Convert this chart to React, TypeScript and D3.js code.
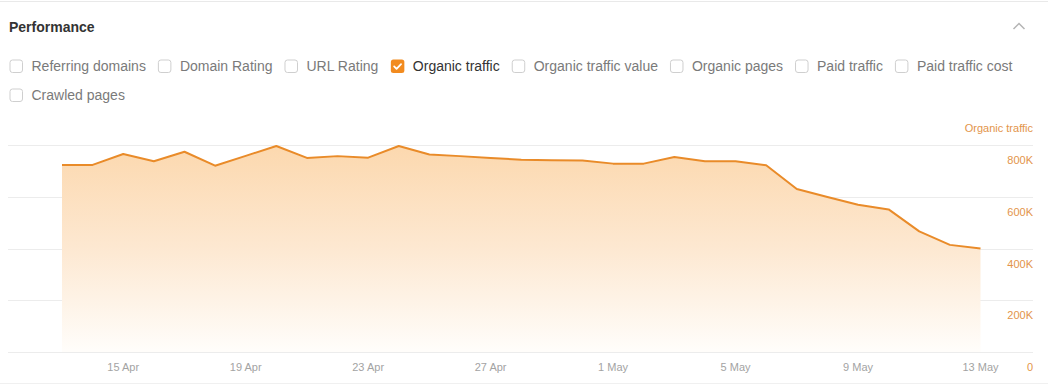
import React from "react";
import * as d3 from "d3";

const dates: string[] = [
  "2024-04-13", "2024-04-14", "2024-04-15", "2024-04-16", "2024-04-17", "2024-04-18",
  "2024-04-19", "2024-04-20", "2024-04-21", "2024-04-22", "2024-04-23", "2024-04-24",
  "2024-04-25", "2024-04-26", "2024-04-27", "2024-04-28", "2024-04-29", "2024-04-30",
  "2024-05-01", "2024-05-02", "2024-05-03", "2024-05-04", "2024-05-05", "2024-05-06",
  "2024-05-07", "2024-05-08", "2024-05-09", "2024-05-10", "2024-05-11", "2024-05-12",
  "2024-05-13",
];

const organicTraffic: number[] = [
  723000, 723000, 765000, 737000, 774000, 720000, 758000, 796000, 750000, 757000,
  751000, 796000, 763000, 757000, 750000, 743000, 741000, 740000, 728000, 728000,
  754000, 737000, 737000, 722000, 630000, 599000, 569000, 551000, 466000, 414000,
  400000,
];

const xTickDates: string[] = [
  "2024-04-15", "2024-04-19", "2024-04-23", "2024-04-27",
  "2024-05-01", "2024-05-05", "2024-05-09", "2024-05-13",
];

const yTickValues: number[] = [0, 200000, 400000, 600000, 800000];

const metricOptions: string[] = [
  "Referring domains", "Domain Rating", "URL Rating", "Organic traffic",
  "Organic traffic value", "Organic pages", "Paid traffic", "Paid traffic cost",
  "Crawled pages",
];
const checkedMetric = "Organic traffic";
const seriesTitle = "Organic traffic";

const W = 1048;
const H = 385;
const FONT = '"Liberation Sans", Arial, sans-serif';
const ORANGE_LINE = "#e98b29";
const ORANGE_TEXT = "#e3944a";

function measure(text: string, font: string): number {
  if (typeof document === "undefined") return text.length * 7;
  const c = document.createElement("canvas").getContext("2d");
  if (!c) return text.length * 7;
  c.font = font;
  return c.measureText(text).width;
}

export default function App() {
  const parse = d3.utcParse("%Y-%m-%d");
  const data = dates.map((d, i) => ({ date: parse(d) as Date, value: organicTraffic[i] }));

  const x = d3
    .scaleUtc()
    .domain([parse(dates[0]) as Date, parse(dates[dates.length - 1]) as Date])
    .range([62, 980.5]);
  const y = d3.scaleLinear().domain([0, 800000]).range([352, 145]);

  const gridLeft = 8;
  const gridRight = 1033;

  const line = d3
    .line<{ date: Date; value: number }>()
    .x((d) => x(d.date))
    .y((d) => y(d.value));
  const area = d3
    .area<{ date: Date; value: number }>()
    .x((d) => x(d.date))
    .y0(y(0))
    .y1((d) => y(d.value));

  const fmtTick = d3.utcFormat("%-d %b");
  const fmtY = (v: number) => (v === 0 ? "0" : `${v / 1000}K`);

  // checkbox layout (flow)
  const labelFont = `14px ${FONT}`;
  const box = 13.5;
  const innerGap = 8.5;
  const itemGap = 12;
  const rowStartX = 9.5;
  const rowMaxX = 1030;
  const rowYs = [59.5, 88.5];
  const items: { label: string; x: number; row: number }[] = [];
  let cx = rowStartX;
  let row = 0;
  metricOptions.forEach((m) => {
    const w = box + innerGap + measure(m, labelFont);
    if (cx + w > rowMaxX) {
      row += 1;
      cx = rowStartX;
    }
    items.push({ label: m, x: cx, row });
    cx += w + itemGap;
  });

  return (
    <div style={{ width: W, height: H }}>
      <style>{`body{margin:0;background:#fff}`}</style>
      <svg width={W} height={H} style={{ display: "block", fontFamily: FONT }}>
        <defs>
          <linearGradient id="areaGrad" gradientUnits="userSpaceOnUse" x1="0" y1="145" x2="0" y2="350">
            <stop offset="0" stopColor="#fcd8ae" />
            <stop offset="0.5" stopColor="#fde8d1" />
            <stop offset="1" stopColor="#fffdfa" />
          </linearGradient>
        </defs>
        <rect x={0} y={0} width={W} height={H} fill="#fff" />
        <line x1={0} x2={W} y1={1.5} y2={1.5} stroke="#e9e9e9" />
        <line x1={0} x2={W} y1={383.5} y2={383.5} stroke="#f0f0f0" />

        <text x={9} y={32} fontSize={14} fontWeight="bold" fill="#333">
          Performance
        </text>
        <polyline
          points="1013.5,29 1019,23.5 1024.5,29"
          fill="none"
          stroke="#b5b5b5"
          strokeWidth={1.5}
        />

        {items.map((it) => {
          const by = rowYs[it.row];
          const checked = it.label === checkedMetric;
          return (
            <g key={it.label}>
              {checked ? (
                <>
                  <rect x={it.x} y={by} width={box} height={box} rx={2.5} fill="#f28b1f" />
                  <polyline
                    points={`${it.x + 3.3},${by + 6.9} ${it.x + 5.7},${by + 9.3} ${it.x + 10.2},${by + 4.6}`}
                    fill="none"
                    stroke="#fff"
                    strokeWidth={1.8}
                    strokeLinecap="round"
                    strokeLinejoin="round"
                  />
                </>
              ) : (
                <rect
                  x={it.x + 0.5}
                  y={by + 0.5}
                  width={box - 1}
                  height={box - 1}
                  rx={2.5}
                  fill="#fff"
                  stroke="#cfcfcf"
                />
              )}
              <text
                x={it.x + box + innerGap}
                y={by + 11.5}
                fontSize={14}
                fill={checked ? "#333" : "#7a7a7a"}
              >
                {it.label}
              </text>
            </g>
          );
        })}

        {/* gridlines */}
        {yTickValues.map((v) => (
          <line
            key={v}
            x1={gridLeft}
            x2={gridRight}
            y1={Math.round(y(v)) + 0.5}
            y2={Math.round(y(v)) + 0.5}
            stroke="#ececec"
          />
        ))}

        <path d={area(data) || ""} fill="url(#areaGrad)" />
        <path
          d={line(data) || ""}
          fill="none"
          stroke={ORANGE_LINE}
          strokeWidth={2}
          strokeLinejoin="round"
        />

        {/* y labels */}
        <text x={gridRight} y={132} fontSize={11} textAnchor="end" fill={ORANGE_TEXT}>
          {seriesTitle}
        </text>
        {yTickValues.map((v) => (
          <text
            key={v}
            x={gridRight}
            y={y(v) + 19}
            fontSize={11}
            textAnchor="end"
            fill={ORANGE_TEXT}
          >
            {fmtY(v)}
          </text>
        ))}

        {/* x labels */}
        {xTickDates.map((d) => {
          const dt = parse(d) as Date;
          return (
            <text
              key={d}
              x={x(dt)}
              y={371}
              fontSize={11}
              textAnchor="middle"
              fill="#a3a3a3"
            >
              {fmtTick(dt)}
            </text>
          );
        })}
      </svg>
    </div>
  );
}
